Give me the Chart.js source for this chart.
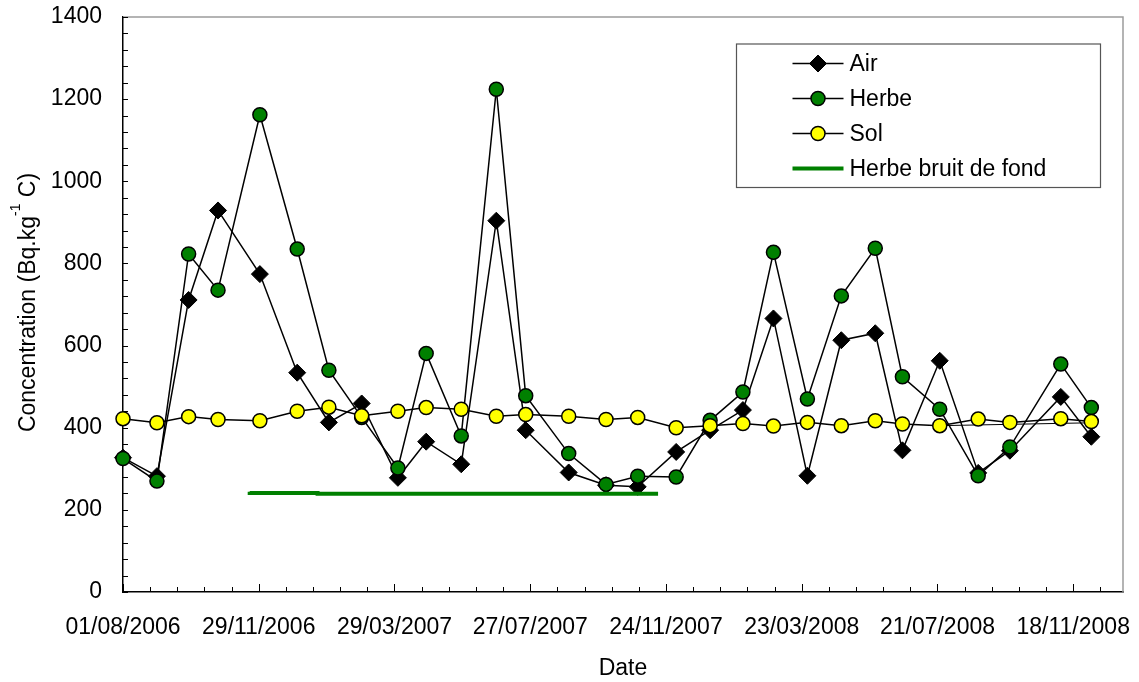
<!DOCTYPE html>
<html>
<head>
<meta charset="utf-8">
<script src="https://cdn.jsdelivr.net/npm/chart.js@4.4.1/dist/chart.umd.min.js"></script>
<style>
  html, body { margin: 0; padding: 0; background: #ffffff; }
  #wrap { width: 1139px; height: 682px; position: relative; }
</style>
</head>
<body>
<div id="wrap"><canvas id="chart" width="1139" height="682"></canvas></div>
<script>
// Sampling dates (dd/mm/yyyy) and measured concentrations, Bq.kg-1 C
const sampleDates = [
  '01/08/2006', '31/08/2006', '28/09/2006', '24/10/2006', '30/11/2006',
  '02/01/2007', '30/01/2007', '28/02/2007', '01/04/2007', '26/04/2007',
  '27/05/2007', '27/06/2007', '23/07/2007', '30/08/2007', '02/10/2007',
  '30/10/2007', '03/12/2007', '02/01/2008', '31/01/2008', '27/02/2008',
  '28/03/2008', '27/04/2008', '27/05/2008', '20/06/2008', '23/07/2008',
  '26/08/2008', '23/09/2008', '07/11/2008', '04/12/2008'
];
const airValues = [
  327, 282, 711, 929, 774, 534, 413, 459, 278, 366,
  311, 904, 394, 291, 260, 256, 341, 394, 443, 666,
  283, 613, 630, 345, 563, 290, 344, 475, 378
];
const herbeValues = [
  325, 270, 823, 735, 1162, 835, 540, 425, 302, 581,
  380, 1224, 478, 337, 262, 282, 280, 418, 487, 827,
  470, 721, 837, 524, 445, 283, 353, 555, 449
];
const solValues = [
  422, 412, 427, 420, 417, 440, 450, 429, 440, 449,
  445, 428, 432, 428, 420, 425, 400, 405, 410, 404,
  413, 405, 417, 409, 405, 421, 413, 422, 415
];

// Grass background level (stepwise)
const backgroundDates = ['21/11/2006', '20/01/2007', '26/06/2007', '17/11/2007'];
const backgroundValues = [244, 241, 239, 239];

// Straight soil segment between the last summer and winter samples
const solLinkDates = ['23/07/2008', '04/12/2008'];
const solLinkValues = [405, 412];

// Axis settings
const axisStartDate = '01/08/2006';
const axisEndDate = '01/01/2009';
const xLabelStepDays = 120;
const xMinorStepDays = 24;
const yMax = 1400;
const yLabelStep = 200;
const yMinorStep = 40;

const legendLabels = ['Air', 'Herbe', 'Sol', 'Herbe bruit de fond'];
const xTitle = 'Date';
const yTitleParts = { main: 'Concentration (Bq.kg', sup: '-1', tail: ' C)' };

const FONT_FAMILY = "'Liberation Sans', Arial, Helvetica, sans-serif";
const GREEN = '#008000';
const YELLOW = '#ffff00';

function parseDay(s) {
  const [d, m, y] = s.split('/').map(Number);
  return Date.UTC(y, m - 1, d);
}
const originMs = parseDay(axisStartDate);
function dayOffset(s) {
  return Math.round((parseDay(s) - originMs) / 86400000);
}
function formatDay(v) {
  const dt = new Date(originMs + v * 86400000);
  const dd = String(dt.getUTCDate()).padStart(2, '0');
  const mm = String(dt.getUTCMonth() + 1).padStart(2, '0');
  return dd + '/' + mm + '/' + dt.getUTCFullYear();
}
function toPoints(dates, values) {
  return dates.map((d, i) => ({ x: dayOffset(d), y: values[i] }));
}

// Inside tick marks, plot frame, rotated y title with superscript, legend box
const decorPlugin = {
  id: 'decor',
  beforeDatasetsDraw(chart) {
    const { ctx, chartArea: a } = chart;
    const xs = chart.scales.x, ys = chart.scales.y;
    ctx.save();
    // gray top and right frame
    ctx.strokeStyle = '#9c9c9c';
    ctx.lineWidth = 1.5;
    ctx.beginPath();
    ctx.moveTo(a.left, a.top);
    ctx.lineTo(a.right, a.top);
    ctx.lineTo(a.right, a.bottom);
    ctx.stroke();
    // tick marks pointing into the plot
    ctx.strokeStyle = '#000';
    ctx.lineWidth = 1;
    ctx.beginPath();
    ys.ticks.forEach(t => {
      const py = Math.round(ys.getPixelForValue(t.value)) + 0.5;
      ctx.moveTo(a.left, py);
      ctx.lineTo(a.left + 5, py);
    });
    xs.ticks.forEach(t => {
      const px = Math.round(xs.getPixelForValue(t.value)) + 0.5;
      const len = (t.value % xLabelStepDays === 0) ? 8 : 5;
      ctx.moveTo(px, a.bottom);
      ctx.lineTo(px, a.bottom - len);
    });
    ctx.stroke();
    ctx.restore();
  },
  afterDraw(chart) {
    const { ctx, chartArea: a } = chart;
    ctx.save();
    // y axis title
    const mainFont = '23px ' + FONT_FAMILY;
    const supFont = '14px ' + FONT_FAMILY;
    ctx.font = mainFont;
    const w1 = ctx.measureText(yTitleParts.main).width;
    const w3 = ctx.measureText(yTitleParts.tail).width;
    ctx.font = supFont;
    const w2 = ctx.measureText(yTitleParts.sup).width;
    const total = w1 + w2 + w3;
    ctx.translate(35, (a.top + a.bottom) / 2 - 2);
    ctx.rotate(-Math.PI / 2);
    ctx.fillStyle = '#000';
    ctx.textBaseline = 'alphabetic';
    ctx.textAlign = 'left';
    let x0 = -total / 2;
    ctx.font = mainFont;
    ctx.fillText(yTitleParts.main, x0, 0);
    ctx.font = supFont;
    ctx.fillText(yTitleParts.sup, x0 + w1, -15);
    ctx.font = mainFont;
    ctx.fillText(yTitleParts.tail, x0 + w1 + w2, 0);
    ctx.restore();

    // legend
    ctx.save();
    const boxR = a.right - 22.5, boxT = a.top + 27;
    const boxL = boxR - 364, boxB = boxT + 143.5;
    ctx.fillStyle = '#fff';
    ctx.fillRect(boxL, boxT, boxR - boxL, boxB - boxT);
    ctx.strokeStyle = '#555';
    ctx.lineWidth = 1.2;
    ctx.strokeRect(boxL, boxT, boxR - boxL, boxB - boxT);
    const ds = chart.data.datasets;
    const lx0 = boxL + 56, lx1 = boxL + 107, mx = (lx0 + lx1) / 2, tx = boxL + 113;
    legendLabels.forEach((lab, i) => {
      const d = ds[i];
      const cy = boxT + 19.5 + 35 * i;
      ctx.strokeStyle = d.borderColor;
      ctx.lineWidth = d.borderWidth;
      ctx.beginPath();
      ctx.moveTo(lx0, cy);
      ctx.lineTo(lx1, cy);
      ctx.stroke();
      if (d.pointRadius > 0) {
        ctx.fillStyle = d.pointBackgroundColor;
        ctx.strokeStyle = d.pointBorderColor;
        ctx.lineWidth = d.pointBorderWidth;
        ctx.beginPath();
        if (d.pointStyle === 'rectRot') {
          const r = d.pointRadius;
          ctx.moveTo(mx - r, cy);
          ctx.lineTo(mx, cy - r);
          ctx.lineTo(mx + r, cy);
          ctx.lineTo(mx, cy + r);
          ctx.closePath();
        } else {
          ctx.arc(mx, cy, d.pointRadius, 0, Math.PI * 2);
        }
        ctx.fill();
        ctx.stroke();
      }
      ctx.fillStyle = '#000';
      ctx.font = '23px ' + FONT_FAMILY;
      ctx.textBaseline = 'middle';
      ctx.textAlign = 'left';
      ctx.fillText(lab, tx, cy + 1);
    });
    ctx.restore();
  }
};

const tickFont = { family: FONT_FAMILY, size: 23 };

new Chart(document.getElementById('chart').getContext('2d'), {
  type: 'line',
  data: {
    datasets: [
      {
        label: legendLabels[0],
        data: toPoints(sampleDates, airValues),
        borderColor: '#000', borderWidth: 1.5,
        pointStyle: 'rectRot', pointRadius: 8.5,
        pointBackgroundColor: '#000', pointBorderColor: '#000', pointBorderWidth: 1,
        tension: 0, order: 5, clip: false
      },
      {
        label: legendLabels[1],
        data: toPoints(sampleDates, herbeValues),
        borderColor: '#000', borderWidth: 1.5,
        pointStyle: 'circle', pointRadius: 7,
        pointBackgroundColor: GREEN, pointBorderColor: '#000', pointBorderWidth: 1.5,
        tension: 0, order: 4, clip: false
      },
      {
        label: legendLabels[2],
        data: toPoints(sampleDates, solValues),
        borderColor: '#000', borderWidth: 1.5,
        pointStyle: 'circle', pointRadius: 7,
        pointBackgroundColor: YELLOW, pointBorderColor: '#000', pointBorderWidth: 1.5,
        tension: 0, order: 2, clip: false
      },
      {
        label: legendLabels[3],
        data: toPoints(backgroundDates, backgroundValues),
        borderColor: GREEN, borderWidth: 4,
        pointRadius: 0, stepped: 'after',
        order: 1, clip: false
      },
      {
        label: 'sol-link',
        data: toPoints(solLinkDates, solLinkValues),
        borderColor: '#000', borderWidth: 1,
        pointRadius: 0, tension: 0,
        order: 3, clip: false
      }
    ]
  },
  options: {
    responsive: false,
    animation: false,
    devicePixelRatio: 1,
    layout: { padding: { top: 17, right: 16, left: 0, bottom: 0 } },
    plugins: { legend: { display: false }, tooltip: { enabled: false } },
    scales: {
      x: {
        type: 'linear',
        min: 0,
        max: dayOffset(axisEndDate),
        afterFit(s) {
          s.height = 90;
          s.paddingLeft = 0; s.paddingRight = 0;
          s.paddingTop = 0; s.paddingBottom = 0;
        },
        grid: { display: false, drawTicks: false },
        border: { display: true, color: '#000', width: 1.5 },
        ticks: {
          stepSize: xMinorStepDays,
          includeBounds: false,
          autoSkip: false,
          maxRotation: 0,
          minRotation: 0,
          padding: 22,
          color: '#000',
          font: tickFont,
          callback: v => (v % xLabelStepDays === 0 ? formatDay(v) : '')
        },
        title: {
          display: true,
          text: xTitle,
          color: '#000',
          font: tickFont,
          padding: { top: 0, bottom: 0 }
        }
      },
      y: {
        min: 0,
        max: yMax,
        afterFit(s) {
          s.width = 123;
          s.paddingLeft = 0; s.paddingRight = 0;
          s.paddingTop = 0; s.paddingBottom = 0;
        },
        grid: { display: false, drawTicks: false },
        border: { display: true, color: '#000', width: 1.5 },
        ticks: {
          stepSize: yMinorStep,
          autoSkip: false,
          padding: 21,
          color: '#000',
          font: tickFont,
          callback: v => (v % yLabelStep === 0 ? String(v) : '')
        }
      }
    }
  },
  plugins: [decorPlugin]
});
</script>
</body>
</html>
